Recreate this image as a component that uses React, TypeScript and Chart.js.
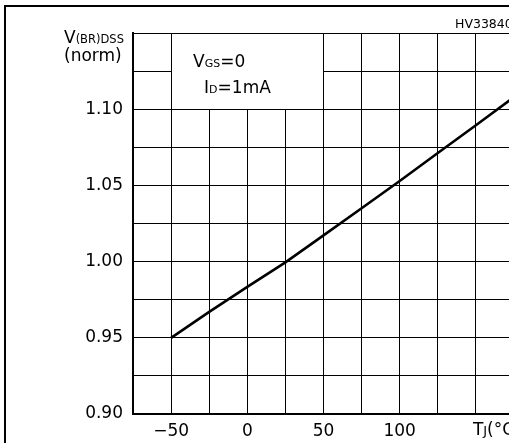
import React, { useEffect, useRef } from 'react';
import { Chart, registerables } from 'chart.js';

Chart.register(...registerables);

// ---- data ----
const temperatures = [-50, -25, 0, 25, 50, 75, 100, 125, 150, 175];
const breakdownNorm = [0.95, 0.967, 0.9834, 0.9995, 1.0172, 1.035, 1.0529, 1.0713, 1.0895, 1.108];
const xLabelValues = [-50, 0, 50, 100];
const yLabelValues = [0.9, 0.95, 1.0, 1.05, 1.1];
const xAxisTitleValue = 150;
const figureCode = 'HV33840';
const conditionLines: [string, string, string][] = [
  ['V', 'GS', '=0'],
  ['I', 'D', '=1mA'],
];

const FONT = 'DejaVu Sans';
const W = 514;
const H = 443;

type Run = [string, number];

function drawRuns(ctx: CanvasRenderingContext2D, x: number, y: number, runs: Run[]) {
  let cx = x;
  for (const [t, s] of runs) {
    ctx.font = `${s}px "${FONT}"`;
    ctx.fillText(t, cx, y);
    cx += ctx.measureText(t).width;
  }
}

const decorPlugin = {
  id: 'decor',
  beforeDatasetsDraw(chart: any) {
    const { ctx, scales } = chart;
    const xs = scales.x;
    const ys = scales.y;
    const xl = Math.round(xs.getPixelForValue(-50) - 0.5) + 1;
    const xr = Math.round(xs.getPixelForValue(50) - 0.5);
    const yt = Math.round(ys.getPixelForValue(1.15) - 0.5) + 1;
    const yb = Math.round(ys.getPixelForValue(1.1) - 0.5);
    ctx.save();
    ctx.fillStyle = '#fff';
    ctx.fillRect(xl, yt, xr - xl, yb - yt);
    ctx.restore();
  },
  afterDraw(chart: any) {
    const { ctx, scales } = chart;
    const xs = scales.x;
    const ys = scales.y;
    ctx.save();
    // outer frame
    ctx.strokeStyle = '#000';
    ctx.lineWidth = 2;
    ctx.beginPath();
    ctx.moveTo(5, H);
    ctx.lineTo(5, 6);
    ctx.lineTo(W, 6);
    ctx.stroke();

    ctx.fillStyle = '#000';
    ctx.textBaseline = 'alphabetic';
    ctx.textAlign = 'left';

    // figure code
    ctx.font = `12.5px "${FONT}"`;
    ctx.fillText(figureCode, 455, 28);

    // y axis title
    const topY = ys.getPixelForValue(1.15);
    drawRuns(ctx, 64, topY + 10, [['V', 17], ['(BR)DSS', 11.5]]);
    drawRuns(ctx, 64, topY + 28, [['(norm)', 17]]);

    // conditions
    const cx0 = xs.getPixelForValue(-50);
    drawRuns(ctx, cx0 + 22, topY + 34, [[conditionLines[0][0], 17], [conditionLines[0][1], 11], [conditionLines[0][2], 17]]);
    drawRuns(ctx, cx0 + 33, topY + 60, [[conditionLines[1][0], 17], [conditionLines[1][1], 11], [conditionLines[1][2], 17]]);

    // x axis title
    const tx = xs.getPixelForValue(xAxisTitleValue) - 3;
    drawRuns(ctx, tx, ys.getPixelForValue(0.9) + 21, [['T', 17], ['J', 13], ['(°C)', 17]]);
    ctx.restore();
  },
};

export default function App() {
  const ref = useRef<HTMLCanvasElement | null>(null);
  useEffect(() => {
    if (!ref.current) return;
    Chart.defaults.font.family = FONT;
    const chart = new Chart(ref.current, {
      type: 'line',
      data: {
        datasets: [
          {
            data: temperatures.map((t, i) => ({ x: t, y: breakdownNorm[i] })),
            borderColor: '#000',
            borderWidth: 2.6,
            pointRadius: 0,
            fill: false,
            tension: 0,
          },
        ],
      },
      options: {
        animation: false,
        responsive: false,
        devicePixelRatio: 1,
        layout: { padding: { top: 33, left: 0, right: 0, bottom: 0 } },
        plugins: { legend: { display: false }, tooltip: { enabled: false } },
        scales: {
          x: {
            type: 'linear',
            min: -75,
            max: 175,
            afterFit: (s: any) => {
              s.height = 29;
              s.paddingLeft = 0;
              s.paddingRight = 0;
            },
            ticks: {
              stepSize: 25,
              autoSkip: false,
              maxRotation: 0,
              minRotation: 0,
              padding: 7,
              color: '#000',
              font: { size: 17, family: FONT },
              callback: (v: any) => {
                const n = Number(v);
                const hit = xLabelValues.find((q) => Math.abs(q - n) < 1e-6);
                if (hit === undefined) return '';
                return hit < 0 ? '\u2212' + Math.abs(hit) : String(hit);
              },
            },
            grid: { color: '#000', lineWidth: 1, drawTicks: false },
            border: { display: true, color: '#000', width: 2 },
          },
          y: {
            type: 'linear',
            min: 0.9,
            max: 1.15,
            afterFit: (s: any) => {
              s.width = 133;
              s.paddingTop = 0;
              s.paddingBottom = 0;
            },
            ticks: {
              stepSize: 0.025,
              autoSkip: false,
              padding: 10,
              color: '#000',
              font: { size: 17, family: FONT },
              callback: (v: any) => {
                const n = Number(v);
                const hit = yLabelValues.find((q) => Math.abs(q - n) < 1e-6);
                return hit === undefined ? '' : hit.toFixed(2);
              },
            },
            grid: { color: '#000', lineWidth: 1, drawTicks: false },
            border: { display: true, color: '#000', width: 2 },
          },
        },
      },
      plugins: [decorPlugin],
    });
    return () => chart.destroy();
  }, []);

  return (
    <div
      style={{
        position: 'absolute',
        left: 0,
        top: 0,
        width: 509,
        height: H,
        overflow: 'hidden',
        background: '#fff',
      }}
    >
      <canvas ref={ref} width={W} height={H} style={{ display: 'block', width: W, height: H }} />
    </div>
  );
}
